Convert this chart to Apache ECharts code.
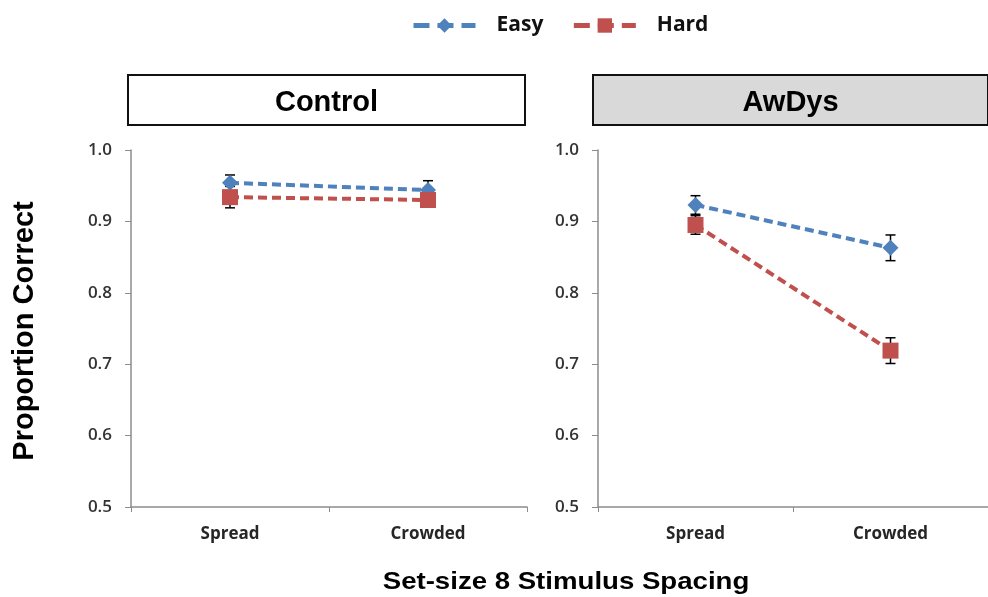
<!DOCTYPE html>
<html><head><meta charset="utf-8">
<script src="https://cdn.jsdelivr.net/npm/echarts@6/dist/echarts.min.js"></script>
<style>html,body{margin:0;padding:0;background:#fff}#c{width:988px;height:597px}</style>
</head><body><div id="c"></div>
<script>
const categories = ['Spread', 'Crowded'];
const groups = ['Control', 'AwDys'];
const yTicks = [0.5, 0.6, 0.7, 0.8, 0.9, 1.0];
const controlEasy = [0.954, 0.944];
const controlEasyErr = [0.011, 0.013];
const controlHard = [0.934, 0.930];
const controlHardErr = [0.015, 0.010];
const awdysEasy = [0.923, 0.863];
const awdysEasyErr = [0.013, 0.018];
const awdysHard = [0.895, 0.719];
const awdysHardErr = [0.013, 0.018];

const BLUE = '#4f81bd', RED = '#c0504d';
const chart = echarts.init(document.getElementById('c'));

function lineSeries(name, data, idx, color, symbol, size) {
  return {
    name, type: 'line', xAxisIndex: idx, yAxisIndex: idx, data,
    symbol, symbolSize: size, z: 5,
    lineStyle: { color, width: 4, type: [9, 5] },
    itemStyle: { color }
  };
}
function errSeries(vals, errs, idx) {
  return {
    type: 'custom', xAxisIndex: idx, yAxisIndex: idx, z: 4, silent: true,
    data: vals.map((v, i) => [i, v, errs[i]]),
    renderItem(params, api) {
      const x = api.value(0), v = api.value(1), e = api.value(2);
      const top = api.coord([x, v + e]), bot = api.coord([x, v - e]);
      const w = 5, st = { stroke: '#000', lineWidth: 1.5 };
      return { type: 'group', children: [
        { type: 'line', shape: { x1: top[0], y1: top[1], x2: bot[0], y2: bot[1] }, style: st },
        { type: 'line', shape: { x1: top[0] - w, y1: top[1], x2: top[0] + w, y2: top[1] }, style: st },
        { type: 'line', shape: { x1: bot[0] - w, y1: bot[1], x2: bot[0] + w, y2: bot[1] }, style: st }
      ]};
    }
  };
}
const grids = [
  { left: 131, width: 396, top: 150, height: 357 },
  { left: 598, width: 396, top: 150, height: 357 }
];
const xAxes = grids.map((g, i) => ({
  type: 'category', gridIndex: i, data: categories, boundaryGap: true,
  axisLine: { lineStyle: { color: '#8c8c8c', width: 1.5 } },
  axisTick: { show: true, length: 5, lineStyle: { color: '#8c8c8c' } },
  axisLabel: { color: '#262626', fontFamily: '"Open Sans"', fontWeight: 'bold', fontSize: 17, margin: 19 }
}));
const yAxes = grids.map((g, i) => ({
  type: 'value', gridIndex: i, min: yTicks[0], max: yTicks[yTicks.length - 1], interval: 0.1,
  splitLine: { show: false },
  axisLine: { show: true, lineStyle: { color: '#8c8c8c', width: 1.5 } },
  axisTick: { show: true, length: 6, lineStyle: { color: '#8c8c8c' } },
  axisLabel: { color: '#333', fontFamily: '"Open Sans"', fontWeight: 600, fontSize: 17, margin: 19, formatter: v => v.toFixed(1) }
}));

const boxes = [
  { x: 127, w: 397, fill: '#ffffff' },
  { x: 592, w: 395, fill: '#d9d9d9' }
];
const graphic = boxes.map((b, i) => ({
  type: 'group', left: b.x, top: 74,
  children: [
    { type: 'rect', shape: { x: 0, y: 0, width: b.w, height: 50 },
      style: { fill: b.fill, stroke: '#111', lineWidth: 2 } },
    { type: 'text', x: b.w / 2, y: 28,
      style: { text: groups[i], fill: '#000', font: 'bold 29px "Liberation Sans", Arial', textAlign: 'center', textVerticalAlign: 'middle' } }
  ]
}));
graphic.push({ type: 'text', x: 25, y: 331, rotation: Math.PI / 2,
  style: { text: 'Proportion Correct', fill: '#000', font: 'bold 29px "Liberation Sans", Arial', textAlign: 'center', textVerticalAlign: 'middle' } });
graphic.push({ type: 'text', x: 566, y: 582, scaleX: 1.15,
  style: { text: 'Set-size 8 Stimulus Spacing', fill: '#000', font: 'bold 24px "Liberation Sans", Arial', textAlign: 'center', textVerticalAlign: 'middle' } });

chart.setOption({
  animation: false,
  legend: {
    top: 10, left: 406, itemWidth: 62, itemHeight: 18, itemGap: 28,
    data: ['Easy', 'Hard'],
    lineStyle: { width: 5, type: [16, 8] },
    textStyle: { fontFamily: '"Open Sans"', fontWeight: 'bold', fontSize: 21, color: '#111', padding: [0, 0, 0, 16] }
  },
  grid: grids, xAxis: xAxes, yAxis: yAxes,
  graphic,
  series: [
    errSeries(controlEasy, controlEasyErr, 0),
    errSeries(controlHard, controlHardErr, 0),
    errSeries(awdysEasy, awdysEasyErr, 1),
    errSeries(awdysHard, awdysHardErr, 1),
    lineSeries('Easy', controlEasy, 0, BLUE, 'diamond', 16),
    lineSeries('Hard', controlHard, 0, RED, 'rect', 16),
    lineSeries('Easy', awdysEasy, 1, BLUE, 'diamond', 16),
    lineSeries('Hard', awdysHard, 1, RED, 'rect', 16)
  ]
});
</script></body></html>
